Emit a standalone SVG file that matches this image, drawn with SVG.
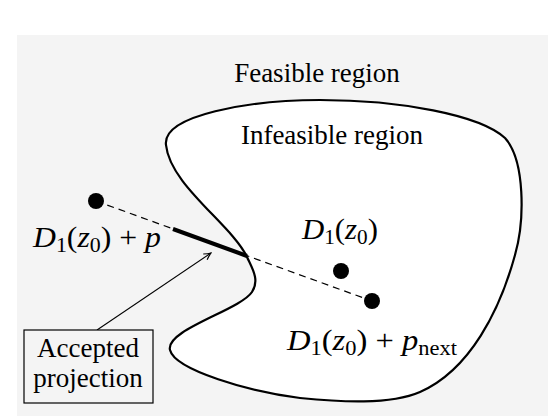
<svg xmlns="http://www.w3.org/2000/svg" width="548" height="416" viewBox="0 0 548 416">
<style>
.t{font-family:"Liberation Serif","Times New Roman",serif;font-size:27px;fill:#000}
.m{font-family:"Liberation Serif","Times New Roman",serif;font-size:29px;fill:#000}
.i{font-style:italic}
.s{font-size:20px}
.dot{fill:#000}
</style>
<defs>
<marker id="ah" viewBox="0 0 10 10" refX="9" refY="5" markerWidth="10" markerHeight="10" markerUnits="userSpaceOnUse" orient="auto">
<path d="M2,1.5 Q6,4 9,5 Q6,6 2,8.5" fill="none" stroke="#000" stroke-width="1.2"/>
</marker>
</defs>
<rect x="17" y="35" width="531" height="381" fill="#f4f4f4"/>
<g id="infeasible-region">
<path d="M247 257 C232 225,170 185,166 145 C162 115,250 100,320 100 C400 100,480 115,505 138 C525 160,525 220,515 255 C500 310,470 370,420 392 C390 405,340 402,300 398 C250 392,175 370,170 350 C165 330,240 310,252 292 C260 280,252 268,247 257 Z" fill="#fff" stroke="#000" stroke-width="2.2"/>
</g>
<g id="labels">
<text class="t" x="317" y="82" text-anchor="middle">Feasible region</text>
<text class="t" x="332" y="144" text-anchor="middle">Infeasible region</text>
</g>
<g id="connectors">
<line x1="96" y1="201" x2="372" y2="301" stroke="#000" stroke-width="1.2" stroke-dasharray="7,5"/>
<line x1="173" y1="229" x2="247" y2="256" stroke="#000" stroke-width="4"/>
<line x1="97" y1="330" x2="211" y2="253" stroke="#000" stroke-width="1.1" marker-end="url(#ah)"/>
</g>
<g id="point-p">
<circle class="dot" cx="96" cy="201" r="8"/>
<text class="m" x="33" y="247" textLength="128" lengthAdjust="spacingAndGlyphs"><tspan class="i">D</tspan><tspan class="s" dy="5">1</tspan><tspan dy="-5">(</tspan><tspan class="i">z</tspan><tspan class="s" dy="5">0</tspan><tspan dy="-5">) + </tspan><tspan class="i">p</tspan></text>
</g>
<g id="point-z0">
<circle class="dot" cx="341" cy="271" r="8"/>
<text class="m" x="302" y="239" textLength="76" lengthAdjust="spacingAndGlyphs"><tspan class="i">D</tspan><tspan class="s" dy="5">1</tspan><tspan dy="-5">(</tspan><tspan class="i">z</tspan><tspan class="s" dy="5">0</tspan><tspan dy="-5">)</tspan></text>
</g>
<g id="point-pnext">
<circle class="dot" cx="372" cy="301" r="8"/>
<text class="m" x="287" y="350" textLength="170" lengthAdjust="spacingAndGlyphs"><tspan class="i">D</tspan><tspan class="s" dy="5">1</tspan><tspan dy="-5">(</tspan><tspan class="i">z</tspan><tspan class="s" dy="5">0</tspan><tspan dy="-5">) + </tspan><tspan class="i">p</tspan><tspan class="s" dy="5">next</tspan></text>
</g>
<g id="accepted-projection">
<rect x="24" y="330" width="129" height="73" fill="#f4f4f4" stroke="#000" stroke-width="1.2"/>
<text class="t" x="88" y="357" text-anchor="middle">Accepted</text>
<text class="t" x="88" y="387" text-anchor="middle">projection</text>
</g>
</svg>
